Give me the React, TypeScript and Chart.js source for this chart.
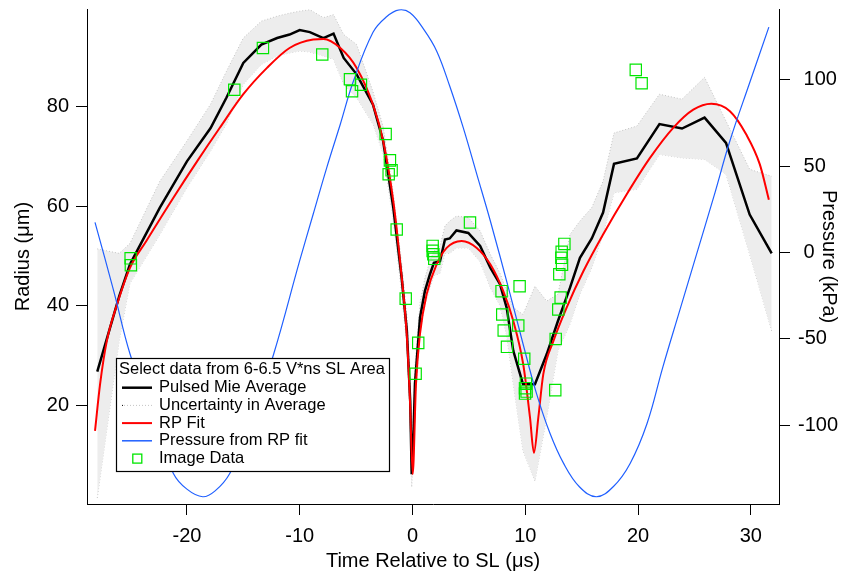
import React, { useEffect, useRef } from 'react';
import { Chart, registerables } from 'chart.js';
Chart.register(...registerables);

const FONT = "'Liberation Sans', Arial, Helvetica, sans-serif";

// Pulsed Mie average (black)
const mieTime = [-27.95, -26.0, -25.05, -22.4, -20.0, -17.9, -16.5, -15.0, -13.4, -12.0, -10.9, -10.0, -9.1, -7.9, -7.0, -6.1, -4.95, -3.5, -2.6, -1.7, -0.96, -0.5, -0.2, -0.07, 0.1, 0.22, 0.67, 1.1, 1.55, 1.9, 2.44, 2.88, 3.3, 3.9, 4.95, 6.0, 6.9, 7.76, 8.35, 8.94, 9.8, 10.86, 11.9, 12.9, 13.97, 14.85, 15.9, 16.9, 17.87, 19.9, 21.9, 23.9, 25.9, 27.8, 29.9, 31.85];
const mieRadius = [26.7, 41.9, 48.3, 59.7, 69.0, 75.7, 81.8, 88.8, 92.5, 93.8, 94.5, 95.4, 95.0, 93.8, 94.7, 89.8, 86.5, 80.4, 73.1, 59.7, 45.6, 35.0, 20.8, 6.1, 15.0, 24.2, 37.6, 42.9, 46.3, 48.6, 48.9, 53.3, 53.5, 55.1, 54.6, 52.0, 47.6, 44.3, 39.6, 30.9, 24.2, 24.2, 30.2, 36.9, 43.6, 49.6, 53.5, 58.7, 68.5, 69.6, 76.5, 75.6, 77.8, 72.7, 58.3, 50.5];
// Uncertainty band (upper / lower) at the same times
const bandUpper = [51.4, 50.5, 52.5, 65.0, 73.1, 80.5, 87.1, 93.8, 97.2, 98.2, 98.8, 99.2, 99.5, 97.9, 98.5, 94.5, 92.5, 83.0, 76.0, 62.5, 48.5, 38.0, 24.0, 9.0, 19.0, 28.0, 40.5, 45.5, 49.0, 51.0, 52.0, 56.0, 57.0, 58.0, 57.7, 55.0, 50.3, 46.5, 43.0, 39.6, 38.2, 43.9, 40.9, 42.3, 54.3, 57.0, 59.7, 65.0, 74.7, 76.1, 82.5, 81.5, 85.9, 77.1, 67.4, 66.0];
const bandLower = [1.3, 33.0, 44.5, 54.3, 63.7, 71.1, 76.5, 84.5, 88.5, 90.2, 90.8, 91.2, 91.0, 90.2, 89.5, 84.5, 81.8, 76.5, 70.5, 57.0, 42.5, 32.0, 17.0, 3.5, 11.0, 20.0, 34.5, 40.0, 43.5, 46.0, 46.5, 50.5, 50.5, 51.6, 51.6, 48.8, 43.6, 40.0, 34.0, 24.2, 10.8, 4.7, 17.5, 30.9, 36.3, 42.3, 47.6, 54.3, 62.7, 63.4, 70.4, 69.7, 69.4, 66.4, 50.3, 34.9];

// RP fit (red)
const fitTime = [-28.15, -27.7, -27.1, -26.2, -25.05, -23.6, -21.2, -19.1, -17.1, -15.0, -12.9, -10.9, -8.8, -7.9, -6.4, -4.95, -3.5, -2.6, -1.7, -1.1, -0.51, -0.22, 0.02, 0.31, 0.66, 1.26, 2.15, 3.03, 4.36, 5.7, 6.9, 8.05, 8.94, 9.82, 10.42, 10.77, 11.16, 11.6, 12.5, 13.67, 15.15, 16.9, 19.0, 21.06, 23.1, 24.9, 26.5, 28.15, 29.6, 30.8, 31.6];
const fitRadius = [14.8, 24.2, 32.9, 40.2, 47.6, 53.0, 61.7, 69.0, 75.7, 82.5, 87.8, 91.8, 93.5, 93.6, 91.8, 87.8, 80.4, 73.1, 61.0, 48.9, 34.2, 20.8, 6.1, 24.2, 34.2, 42.3, 48.3, 51.6, 53.0, 51.6, 48.3, 42.9, 36.9, 28.2, 17.5, 10.4, 17.5, 26.2, 32.9, 39.6, 46.9, 54.3, 62.4, 69.7, 75.7, 79.4, 80.6, 79.1, 74.4, 68.4, 61.3];

// Pressure from RP fit (blue, right axis)
const pressureTime = [-28.15, -26.5, -25.05, -23.0, -21.2, -20.0, -18.6, -17.5, -16.2, -14.5, -12.3, -10.0, -8.8, -7.6, -6.4, -5.25, -3.5, -2.3, -1.2, -0.22, 1.0, 2.15, 3.3, 4.5, 5.7, 6.9, 8.65, 9.8, 11.0, 12.2, 13.4, 14.8, 16.3, 17.8, 19.3, 20.8, 22.2, 23.7, 25.2, 26.7, 28.15, 29.9, 31.6];
const pressureKPa = [17.5, -22.0, -58.6, -97.0, -127.9, -137.0, -141.4, -138.0, -127.9, -102.0, -58.6, -4.7, 22.3, 49.2, 74.3, 99.0, 127.5, 136.5, 140.5, 138.8, 129.2, 116.6, 96.4, 72.3, 45.4, 18.4, -23.9, -52.8, -81.7, -104.8, -122.1, -135.6, -141.4, -135.6, -122.1, -99.0, -66.3, -33.5, -0.8, 31.9, 64.7, 98.3, 130.5];

// Image data (green squares)
const imageTime = [-24.99, -24.97, -15.8, -13.26, -8.0, -5.54, -5.36, -4.57, -2.38, -2.0, -1.85, -2.11, -1.4, -0.6, 0.28, 0.51, 1.79, 1.79, 1.85, 1.93, 5.1, 7.9, 9.5, 7.96, 8.09, 9.38, 8.38, 9.91, 10.06, 9.98, 9.98, 10.12, 12.66, 12.7, 12.93, 13.14, 13.02, 13.26, 13.2, 13.23, 13.47, 19.8, 20.32];
const imageRadius = [49.5, 48.1, 83.4, 91.8, 90.5, 85.5, 83.1, 84.4, 74.5, 69.2, 67.2, 66.4, 55.3, 41.4, 26.3, 32.5, 52.0, 51.0, 50.3, 49.4, 56.7, 42.9, 43.9, 38.2, 35.0, 36.0, 31.7, 29.3, 24.3, 23.4, 22.3, 22.7, 23.0, 33.3, 39.2, 41.6, 46.3, 48.2, 49.6, 50.8, 52.4, 87.4, 84.7];

// Axes
const timeTicks = [-20, -10, 0, 10, 20, 30];
const radiusTicks = [20, 40, 60, 80];
const pressureTicks = [-100, -50, 0, 50, 100];
const timeRange = [-28.86, 32.5];
const radiusRange = [0.1, 99.6];
const pressureRange = [-145.6, 140.9];

const legendTitle = 'Select data from 6-6.5 V*ns SL Area';
const legendLabels = ['Pulsed Mie Average', 'Uncertainty in Average', 'RP Fit', 'Pressure from RP fit', 'Image Data'];

const BLUE = '#1f5fff';
const RED = '#ff0000';
const GREEN = '#00e600';

const pts = (xs: number[], ys: number[]) => xs.map((x, i) => ({ x, y: ys[i] }));

const legendPlugin = {
  id: 'igorLegend',
  afterDraw(chart: any) {
    const ctx = chart.ctx as CanvasRenderingContext2D;
    const bx = 116, by = 358, bw = 273, bh = 113;
    ctx.save();
    ctx.fillStyle = '#ffffff';
    ctx.fillRect(bx, by, bw, bh);
    ctx.strokeStyle = '#000';
    ctx.lineWidth = 1.2;
    ctx.strokeRect(bx + 0.5, by + 0.5, bw, bh);
    ctx.font = `16.5px ${FONT}`;
    ctx.fillStyle = '#000';
    ctx.textBaseline = 'middle';
    ctx.textAlign = 'left';
    ctx.fillText(legendTitle, bx + 3, by + 11.5);
    const rowY = [387.7, 405.4, 423.1, 440.8, 458.6];
    const sx0 = 122, sx1 = 152, tx = 159;
    legendLabels.forEach((lab, i) => {
      const y = rowY[i];
      ctx.fillStyle = '#000';
      ctx.fillText(lab, tx, y);
      ctx.save();
      if (i === 0) {
        ctx.strokeStyle = '#000'; ctx.lineWidth = 2.5;
        ctx.beginPath(); ctx.moveTo(sx0, y); ctx.lineTo(sx1, y); ctx.stroke();
      } else if (i === 1) {
        ctx.strokeStyle = '#c4c4c4'; ctx.lineWidth = 1; ctx.setLineDash([1, 2]);
        ctx.beginPath(); ctx.moveTo(sx0 + 2, y); ctx.lineTo(sx1, y); ctx.stroke();
        ctx.fillStyle = '#000'; ctx.fillRect(sx0, y - 0.5, 1, 1);
      } else if (i === 2) {
        ctx.strokeStyle = RED; ctx.lineWidth = 2;
        ctx.beginPath(); ctx.moveTo(sx0, y); ctx.lineTo(sx1, y); ctx.stroke();
      } else if (i === 3) {
        ctx.strokeStyle = BLUE; ctx.lineWidth = 1.5;
        ctx.beginPath(); ctx.moveTo(sx0, y); ctx.lineTo(sx1, y); ctx.stroke();
      } else {
        ctx.strokeStyle = GREEN; ctx.lineWidth = 1.3;
        ctx.strokeRect(137.3 - 4.5, y - 4.5, 9, 9);
      }
      ctx.restore();
    });
    ctx.restore();
  },
};

const tickFont = { family: FONT, size: 20 };
const titleFont = { family: FONT, size: 20 };

export default function App() {
  const ref = useRef<HTMLCanvasElement | null>(null);
  useEffect(() => {
    if (!ref.current) return;
    const chart = new Chart(ref.current, {
      type: 'scatter',
      data: {
        datasets: [
          {
            label: 'Uncertainty upper',
            data: pts(mieTime, bandUpper),
            showLine: true,
            fill: '+1',
            backgroundColor: '#ededed',
            borderColor: '#c4c4c4',
            borderWidth: 1,
            borderDash: [1, 2],
            pointRadius: 0,
            yAxisID: 'y',
            order: 5,
          } as any,
          {
            label: 'Uncertainty lower',
            data: pts(mieTime, bandLower),
            showLine: true,
            fill: false,
            borderColor: '#c4c4c4',
            borderWidth: 1,
            borderDash: [1, 2],
            pointRadius: 0,
            yAxisID: 'y',
            order: 6,
          },
          {
            label: 'Pulsed Mie Average',
            data: pts(mieTime, mieRadius),
            showLine: true,
            borderColor: '#000',
            borderWidth: 2.5,
            pointRadius: 0,
            yAxisID: 'y',
            order: 4,
          },
          {
            label: 'RP Fit',
            data: pts(fitTime, fitRadius),
            showLine: true,
            borderColor: RED,
            borderWidth: 2,
            pointRadius: 0,
            cubicInterpolationMode: 'monotone',
            yAxisID: 'y',
            order: 3,
          },
          {
            label: 'Pressure from RP fit',
            data: pts(pressureTime, pressureKPa),
            showLine: true,
            borderColor: BLUE,
            borderWidth: 1.2,
            pointRadius: 0,
            tension: 0.4,
            yAxisID: 'y2',
            order: 2,
          },
          {
            label: 'Image Data',
            data: pts(imageTime, imageRadius),
            showLine: false,
            pointStyle: 'rect',
            pointRadius: 8,
            pointBorderColor: GREEN,
            pointBackgroundColor: 'rgba(0,0,0,0)',
            pointBorderWidth: 1.2,
            yAxisID: 'y',
            order: 1,
          },
        ],
      },
      options: {
        responsive: false,
        animation: false,
        events: [],
        layout: { padding: { top: 8, left: 0, right: 0, bottom: 0 } },
        plugins: { legend: { display: false }, tooltip: { enabled: false } },
        scales: {
          x: {
            type: 'linear',
            position: 'bottom',
            min: timeRange[0],
            max: timeRange[1],
            afterBuildTicks: (s: any) => { s.ticks = timeTicks.map((v) => ({ value: v })); },
            afterFit: (s: any) => { s.height = 72; s.paddingLeft = 0; s.paddingRight = 0; },
            ticks: { font: tickFont, color: '#000', padding: 9, maxRotation: 0, autoSkip: false },
            grid: { drawOnChartArea: false, drawTicks: true, tickLength: 11, tickColor: '#000', tickWidth: 1 },
            border: { display: true, color: '#000', width: 1 },
            title: { display: true, text: 'Time Relative to SL (μs)', font: titleFont, color: '#000', padding: { top: 0, bottom: 2.5 } },
          },
          y: {
            type: 'linear',
            position: 'left',
            min: radiusRange[0],
            max: radiusRange[1],
            afterBuildTicks: (s: any) => { s.ticks = radiusTicks.map((v) => ({ value: v })); },
            afterFit: (s: any) => { s.width = 87; s.paddingTop = 0; s.paddingBottom = 0; },
            ticks: { font: tickFont, color: '#000', padding: 7, autoSkip: false },
            grid: { drawOnChartArea: false, drawTicks: true, tickLength: 11, tickColor: '#000', tickWidth: 1 },
            border: { display: true, color: '#000', width: 1 },
            title: { display: true, text: 'Radius (μm)', font: titleFont, color: '#000', padding: { top: 11, bottom: 0 } },
          },
          y2: {
            type: 'linear',
            position: 'right',
            min: pressureRange[0],
            max: pressureRange[1],
            afterBuildTicks: (s: any) => { s.ticks = pressureTicks.map((v) => ({ value: v })); },
            afterFit: (s: any) => { s.width = 65; s.paddingTop = 0; s.paddingBottom = 0; },
            ticks: {
              font: tickFont, color: '#000', padding: 8, autoSkip: false,
              callback: (v: any) => (Number(v) >= 0 ? ' ' + v : String(v)),
            },
            grid: { drawOnChartArea: false, drawTicks: true, tickLength: 11, tickColor: '#000', tickWidth: 1 },
            border: { display: true, color: '#000', width: 1 },
            title: { display: true, text: 'Pressure (kPa)', font: titleFont, color: '#000', padding: { top: 3.5, bottom: 0 } },
          },
        },
      } as any,
      plugins: [legendPlugin],
    });
    return () => chart.destroy();
  }, []);
  return (
    <div style={{ position: 'fixed', left: 0, top: 0, width: 844, height: 576, background: '#fff' }}>
      <canvas ref={ref} width={844} height={576} style={{ display: 'block' }} />
    </div>
  );
}
